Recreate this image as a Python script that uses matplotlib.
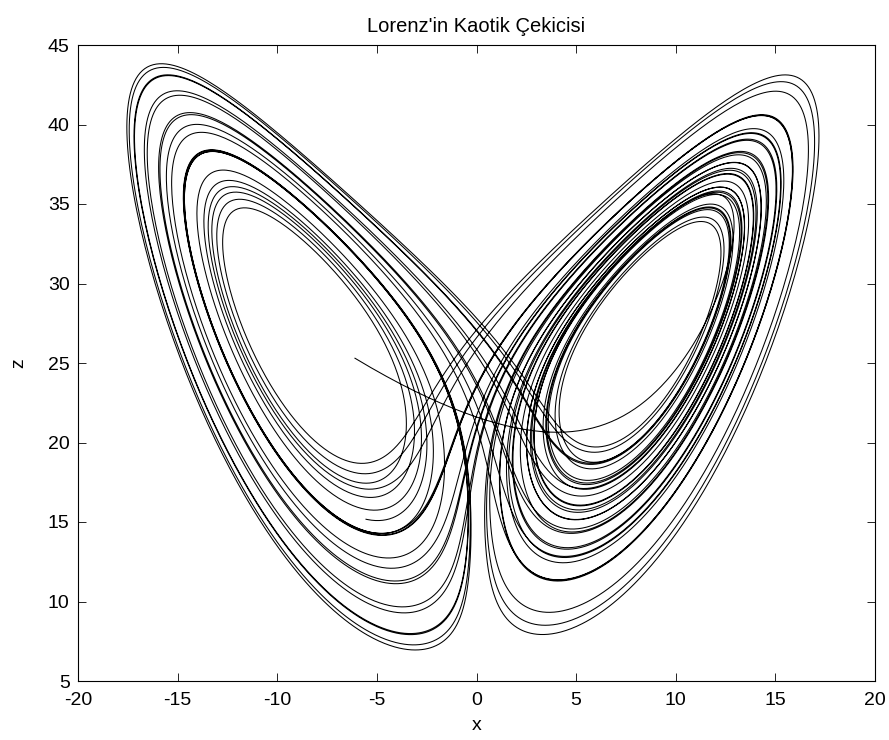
import numpy as np
import matplotlib
matplotlib.use("Agg")
import matplotlib.pyplot as plt

# Lorenz system parameters and initial state (start of the curve)
sigma, rho, beta = 10.0, 28.0, 8.0 / 3.0
x0, y0, z0 = -6.1, 14.5, 25.3
t_end = 40.0
dt = 0.002

x_ticks = [-20, -15, -10, -5, 0, 5, 10, 15, 20]
z_ticks = [5, 10, 15, 20, 25, 30, 35, 40, 45]


def deriv(s):
    x, y, z = s
    return np.array([sigma * (y - x), x * (rho - z) - y, x * y - beta * z])


def integrate(s0, T, h):
    n = int(round(T / h))
    out = np.empty((n + 1, 3))
    s = np.array(s0, float)
    out[0] = s
    for i in range(n):
        k1 = deriv(s)
        k2 = deriv(s + h / 2 * k1)
        k3 = deriv(s + h / 2 * k2)
        k4 = deriv(s + h * k3)
        s = s + h / 6 * (k1 + 2 * k2 + 2 * k3 + k4)
        out[i + 1] = s
    return out


traj = integrate([x0, y0, z0], t_end, dt)

plt.rcParams['font.family'] = ['Liberation Sans', 'DejaVu Sans']
plt.rcParams['axes.unicode_minus'] = False
fig = plt.figure(figsize=(8.89, 7.4), dpi=100)
ax = fig.add_axes([78 / 889, 1 - 681 / 740, (875 - 78) / 889, (681 - 45) / 740])
ax.plot(traj[:, 0], traj[:, 2], color='black', lw=0.75)
ax.set_xlim(-20, 20)
ax.set_ylim(5, 45)
ax.set_xticks(x_ticks)
ax.set_yticks(z_ticks)
ax.tick_params(direction='in', top=True, right=True, labelsize=14, length=6, width=0.6)
ax.tick_params(axis='x', pad=8)
ax.tick_params(axis='y', pad=6)
for sp in ax.spines.values():
    sp.set_linewidth(0.8)
ax.set_xlabel('x', fontsize=14, labelpad=6)
ax.set_ylabel('z', fontsize=14, labelpad=15)
ax.set_title("Lorenz'in Kaotik Çekicisi", fontsize=14.5, pad=9)
fig.savefig("out.png", dpi=100)
